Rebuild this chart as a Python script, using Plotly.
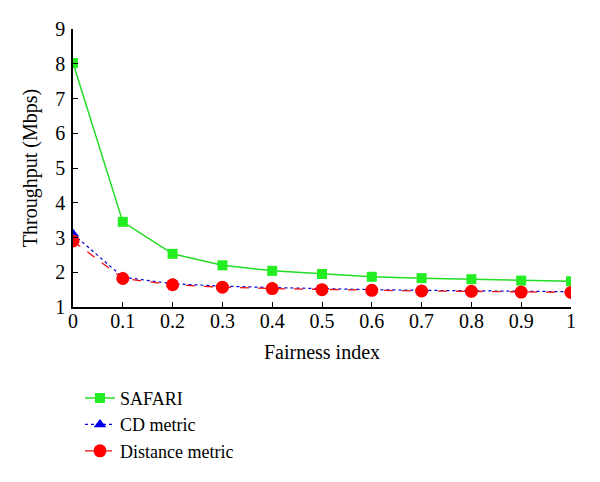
import plotly.graph_objects as go

fairness = [0, 0.1, 0.2, 0.3, 0.4, 0.5, 0.6, 0.7, 0.8, 0.9, 1]
safari = [8.02, 3.45, 2.53, 2.2, 2.04, 1.95, 1.87, 1.83, 1.8, 1.76, 1.74]
cd_metric = [3.1, 1.86, 1.67, 1.6, 1.56, 1.52, 1.5, 1.48, 1.47, 1.45, 1.44]
distance_metric = [2.9, 1.82, 1.64, 1.57, 1.53, 1.5, 1.48, 1.46, 1.45, 1.43, 1.42]
x_ticks = [0, 0.1, 0.2, 0.3, 0.4, 0.5, 0.6, 0.7, 0.8, 0.9, 1]
x_tick_text = ["0", "0.1", "0.2", "0.3", "0.4", "0.5", "0.6", "0.7", "0.8", "0.9", "1"]

FONT = "Liberation Serif"

fig = go.Figure()
fig.add_trace(go.Scatter(
    x=fairness, y=safari, name="SAFARI", mode="lines+markers",
    line=dict(color="#22dd22", width=1.5),
    marker=dict(symbol="square", size=10, color="#22ee22"),
))
fig.add_trace(go.Scatter(
    x=fairness, y=cd_metric, name="CD metric", mode="lines+markers",
    line=dict(color="#0000dd", width=1.2, dash="dot"),
    marker=dict(symbol="triangle-up", size=11, color="#0000ee"),
))
fig.add_trace(go.Scatter(
    x=fairness, y=distance_metric, name="Distance metric", mode="lines+markers",
    line=dict(color="#ee1111", width=1.3, dash="dash"),
    marker=dict(symbol="circle", size=13, color="#ff0000"),
))

fig.update_layout(
    width=592, height=474,
    margin=dict(l=65, r=29, t=21, b=175),
    paper_bgcolor="white", plot_bgcolor="white",
    font=dict(family=FONT, size=20, color="black"),
    showlegend=True,
    legend=dict(x=0.014, y=-0.262, xanchor="left", yanchor="top",
                font=dict(family=FONT, size=18, color="black"),
                bgcolor="rgba(0,0,0,0)", tracegroupgap=0, itemwidth=30),
    xaxis=dict(
        range=[0, 1], tickvals=x_ticks, ticktext=x_tick_text,
        tickfont=dict(family=FONT, size=20, color="black"),
        ticklabelstandoff=-5, automargin=False,
        showgrid=False, zeroline=False, showline=True, linecolor="black", linewidth=1.5,
        ticks="inside", ticklen=5, tickcolor="black",
        title=dict(text="Fairness index", standoff=14,
                   font=dict(family=FONT, size=20, color="black")),
    ),
    yaxis=dict(
        range=[1, 9], dtick=1,
        tickfont=dict(family=FONT, size=20, color="black"),
        ticklabelstandoff=2, automargin=False,
        showgrid=False, zeroline=False, showline=True, linecolor="black", linewidth=1.5,
        ticks="inside", ticklen=5, tickcolor="black",
        title=dict(text="Throughput (Mbps)", standoff=12,
                   font=dict(family=FONT, size=20, color="black")),
    ),
)

fig.write_html("out.html")
